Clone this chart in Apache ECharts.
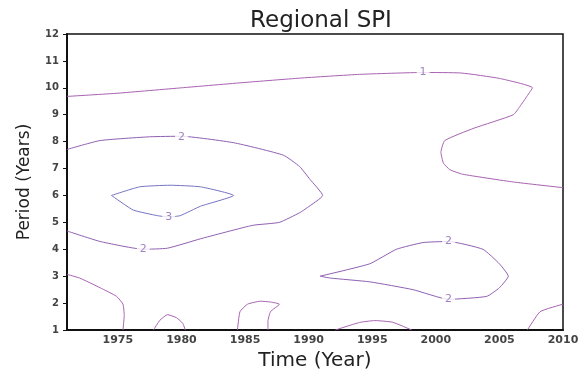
<!DOCTYPE html>
<html><head><meta charset="utf-8">
<script src="https://cdn.jsdelivr.net/npm/echarts@6/dist/echarts.min.js"></script>
<style>html,body{margin:0;padding:0;background:#fff}#c{width:582px;height:376px}</style>
</head><body><div id="c"></div>
<script>
var title = 'Regional SPI';
var xName = 'Time (Year)';
var yName = 'Period (Years)';
var xTicks = [1975, 1980, 1985, 1990, 1995, 2000, 2005, 2010];
var yTicks = [1,2,3,4,5,6,7,8,9,10,11,12];

// contour level 1 (upper band)
var c1Top = [[1971,9.68],[1975,9.8],[1980,10.0],[1985,10.2],[1989.3,10.36],[1994,10.5],[1999,10.57],[2002,10.55],[2005,10.35],[2007.6,10.0],[2007.2,9.71],[2006.6,9.3],[2006.1,9.0],[2003,8.5],[2000.7,8.04],[2000.4,7.6],[2000.6,7.2],[2001.1,6.96],[2002.1,6.79],[2006.1,6.5],[2010,6.29]];
// contour level 2 (upper)
var c2Upper = [[1971,7.71],[1973.6,8.04],[1977.5,8.18],[1980,8.2],[1984.1,7.96],[1988,7.5],[1989.3,7.07],[1990.1,6.6],[1991.1,6.0],[1989.9,5.55],[1989.3,5.36],[1987.7,5.0],[1985.6,4.89],[1981.5,4.39],[1978.9,4.04],[1977,4.0],[1973.6,4.29],[1971,4.68]];
// contour level 3
var c3 = [[1974.5,6.0],[1976.7,6.32],[1979.1,6.38],[1981.5,6.32],[1984.1,6.0],[1981.5,5.6],[1979.9,5.25],[1979,5.2],[1978.1,5.25],[1976.2,5.46],[1974.5,6.0]];
// contour level 2 (right lower island)
var c2Right = [[1990.9,3.0],[1994.8,3.46],[1996.9,4.0],[1999,4.25],[2001,4.29],[2003.7,4.0],[2005,3.46],[2005.7,3.0],[2005,2.57],[2004,2.25],[2001,2.14],[1998.2,2.5],[1994.8,2.79],[1991.7,2.93],[1990.9,3.0]];
// contour level 1 bottom pieces
var c1LowA = [[1971,3.07],[1972,2.93],[1973.6,2.57],[1974.9,2.25],[1975.4,1.96],[1975.5,1.54],[1975.4,1.0]];
var c1LowB = [[1977.8,1.0],[1978.3,1.36],[1978.9,1.57],[1979.6,1.46],[1980.1,1.25],[1980.3,1.0]];
var c1LowC = [[1984.4,1.0],[1984.6,1.68],[1985.2,1.96],[1986.2,2.07],[1987,2.04],[1987.7,1.96],[1987,1.68],[1986.8,1.32],[1986.8,1.0]];
var c1LowD = [[1992.1,1.0],[1994,1.28],[1995.2,1.35],[1996.6,1.29],[1998.1,1.0]];
var c1LowE = [[2007.2,1.0],[2008.2,1.68],[2010,1.96]];

var labelPts = [[1999,10.57,'1'],[1980,8.18,'2'],[1979,5.2,'3'],[1977,4.0,'2'],[2001,4.29,'2'],[2001,2.14,'2']];

var colL1 = '#a862b2', colL2 = '#9060b2', colL3 = '#7474c4';
function line(data, color){
  return {type:'line', data:data, symbol:'none', smooth:0.15, lineStyle:{color:color, width:1}, z:2, silent:true};
}
var series = [
  line(c1Top, colL1), line(c2Upper, colL2), line(c3, colL3), line(c2Right, colL2),
  line(c1LowA, colL1), line(c1LowB, colL1), line(c1LowC, colL1), line(c1LowD, colL1), line(c1LowE, colL1),
  {type:'scatter', data:labelPts.map(function(p){return [p[0],p[1],p[2]];}), symbolSize:0, z:5,
   label:{show:true, position:'inside', formatter:function(p){return p.data[2];}, color:'#8a64b0', fontSize:11,
     fontFamily:'DejaVu Sans', backgroundColor:'#fff', padding:[0,3]}}
];

var chart = echarts.init(document.getElementById('c'));
chart.setOption({
  animation:false,
  backgroundColor:'#fff',
  title:{text:title, left:316, top:5, textAlign:'center', textStyle:{fontFamily:'DejaVu Sans', fontWeight:'normal', fontSize:23, color:'#222'}},
  grid:{left:67, right:19, top:34, bottom:34, show:true, borderColor:'#111', borderWidth:1.5},
  xAxis:{type:'value', min:1971, max:2010, interval:1,
    name:xName, nameLocation:'middle', nameGap:21, nameTextStyle:{fontFamily:'DejaVu Sans', fontSize:20, color:'#222'},
    axisLine:{lineStyle:{color:'#111', width:2}}, axisTick:{show:false}, splitLine:{show:false},
    axisLabel:{fontFamily:'DejaVu Sans', fontSize:11, fontWeight:'bold', color:'#444', margin:5, showMinLabel:true, showMaxLabel:true,
      formatter:function(v){return xTicks.indexOf(v)>=0 ? String(v) : '';}}},
  yAxis:{type:'value', min:1, max:12, interval:1,
    name:yName, nameLocation:'middle', nameGap:34, nameTextStyle:{fontFamily:'DejaVu Sans', fontSize:17, color:'#222'},
    axisLine:{show:true, lineStyle:{color:'#111', width:2}}, axisTick:{show:true, length:4, lineStyle:{color:'#111'}}, splitLine:{show:false},
    axisLabel:{fontFamily:'DejaVu Sans', fontSize:10, fontWeight:'bold', color:'#444', margin:8,
      formatter:function(v){return yTicks.indexOf(v)>=0 ? String(v) : '';}}},
  series:series
});
</script></body></html>
